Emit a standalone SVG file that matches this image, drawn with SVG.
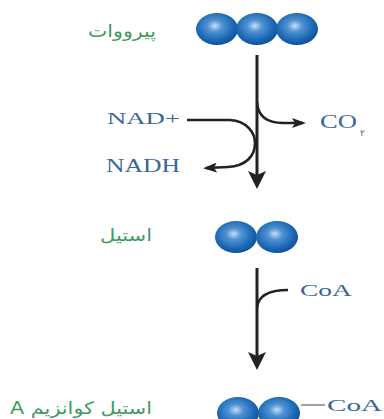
<svg xmlns="http://www.w3.org/2000/svg" width="384" height="419" viewBox="0 0 384 419">
<defs>
<radialGradient id="ball" cx="0.45" cy="0.42" r="0.6" fx="0.45" fy="0.4">
<stop offset="0" stop-color="#c9def2"/>
<stop offset="0.3" stop-color="#4f92d2"/>
<stop offset="0.75" stop-color="#1a66b2"/>
<stop offset="1" stop-color="#0d4f95"/>
</radialGradient>
<marker id="bigHead" markerUnits="userSpaceOnUse" markerWidth="18" markerHeight="18" viewBox="0 0 18 18" refX="14" refY="9" orient="auto">
<path d="M0,0 L18,9 L0,18 L4,9 Z" fill="#222"/>
</marker>
<marker id="smallHead" markerUnits="userSpaceOnUse" markerWidth="14" markerHeight="10" viewBox="0 0 14 10" refX="11" refY="5" orient="auto">
<path d="M0,0 L14,5 L0,10 L3,5 Z" fill="#222"/>
</marker>
</defs>
<style>
.b{fill:url(#ball)}
.ln{fill:none;stroke:#222;stroke-width:2.6}
.main{fill:none;stroke:#222;stroke-width:3}
.lat{font-family:"Liberation Serif",serif;fill:#3a6896}
.fa{font-family:"DejaVu Sans","Noto Sans",sans-serif;fill:#3f9a60}
</style>
<rect width="384" height="419" fill="#ffffff"/>
<g id="connectors">
<path class="main" d="M257,55 V185" marker-end="url(#bigHead)"/>
<path class="ln" d="M187,120 H230 C247,121 255,133 255,143 C255,156 246,166 228,167 L206,168" marker-end="url(#smallHead)"/>
<path class="ln" d="M257,102 C258,117 268,123 283,123 L303,123" marker-end="url(#smallHead)"/>
<path class="main" d="M257,268 V366" marker-end="url(#bigHead)"/>
<path class="ln" d="M257,308 C258,296 269,290 288,290"/>
<path d="M301,405 H325" fill="none" stroke="#8a8a8a" stroke-width="1.6"/>
</g>
<g id="pyruvate">
<ellipse class="b" cx="217" cy="29" rx="21" ry="16"/>
<ellipse class="b" cx="257" cy="29" rx="21" ry="16"/>
<ellipse class="b" cx="297" cy="29" rx="21" ry="16"/>
<text class="fa" x="122" y="37" font-size="17" text-anchor="middle" direction="rtl" textLength="68" lengthAdjust="spacingAndGlyphs">پیرووات</text>
</g>
<g id="nad">
<text class="lat" x="107" y="124" font-size="17" textLength="73" lengthAdjust="spacingAndGlyphs">NAD+</text>
</g>
<g id="nadh">
<text class="lat" x="106" y="172" font-size="18" textLength="74" lengthAdjust="spacingAndGlyphs">NADH</text>
</g>
<g id="co2">
<text class="lat" x="320" y="128" font-size="18" textLength="37" lengthAdjust="spacingAndGlyphs">CO</text>
<text class="lat" x="360" y="136" font-size="9">۲</text>
</g>
<g id="acetyl">
<ellipse class="b" cx="236" cy="237" rx="21" ry="16"/>
<ellipse class="b" cx="277" cy="237" rx="21" ry="16"/>
<text class="fa" x="126" y="241" font-size="17" text-anchor="middle" direction="rtl" textLength="52" lengthAdjust="spacingAndGlyphs">استیل</text>
</g>
<g id="coa">
<text class="lat" x="300" y="296" font-size="17" textLength="52" lengthAdjust="spacingAndGlyphs">CoA</text>
</g>
<g id="acetylcoa">
<ellipse class="b" cx="238" cy="413" rx="21" ry="16"/>
<ellipse class="b" cx="279" cy="413" rx="21" ry="16"/>
<text class="lat" x="327" y="411" font-size="17" textLength="55" lengthAdjust="spacingAndGlyphs">CoA</text>
<text class="fa" x="81" y="414" font-size="17" text-anchor="middle" direction="rtl" textLength="142" lengthAdjust="spacingAndGlyphs">استیل کوانزیم A</text>
</g>
</svg>
